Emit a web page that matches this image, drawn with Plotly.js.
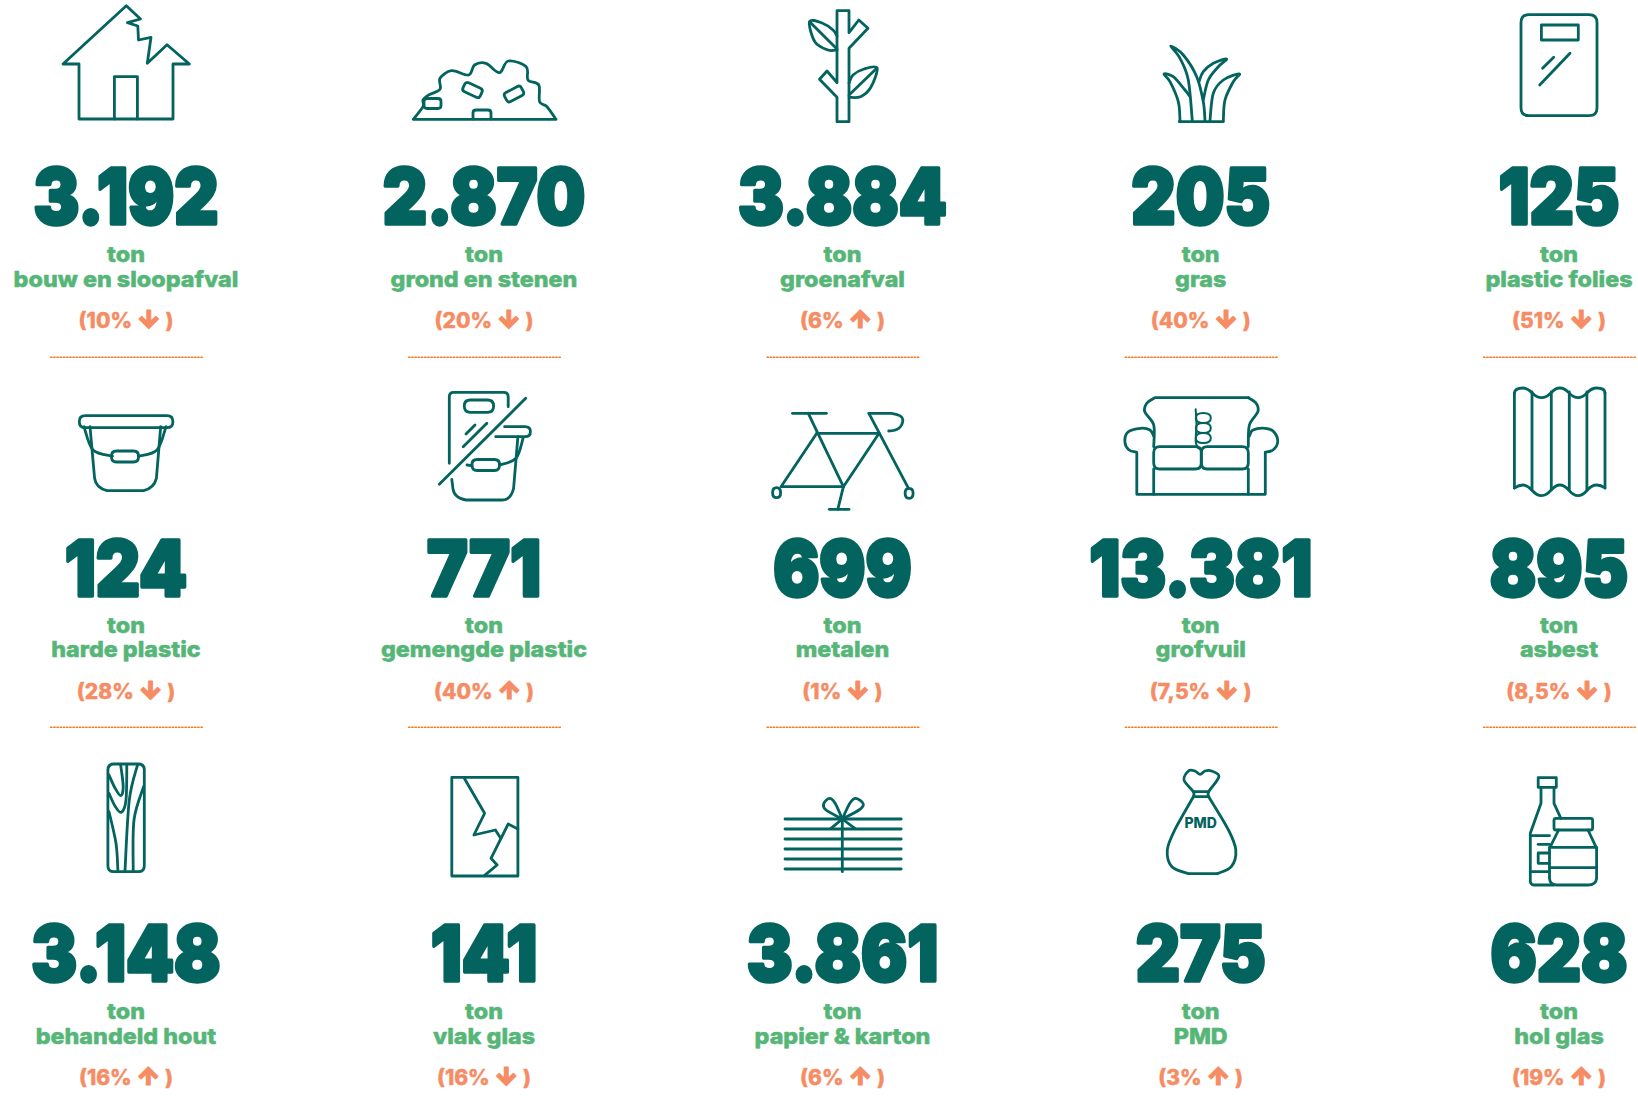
<!DOCTYPE html>
<html><head><meta charset="utf-8">
<script src="https://cdn.plot.ly/plotly-3.0.1.min.js"></script>
<style>
html,body{margin:0;padding:0;background:#fff;overflow:hidden}
.shapelayer path{stroke-linejoin:round;stroke-linecap:round}
.textpoint text[style*="font-size: 77px"]{stroke:#02635f;stroke-width:3.5px;stroke-linejoin:round;transform-box:fill-box;transform-origin:center;transform:scaleX(.89)}
.textpoint text[style*="font-size: 22px"]{stroke:#56b678;stroke-width:.5px;stroke-linejoin:round;transform-box:fill-box;transform-origin:center;transform:scaleX(1.06)}
.textpoint text[style*="font-size: 21px"]{stroke:#f68c63;stroke-width:.4px;stroke-linejoin:round}
</style></head><body><div id="chart" style="width:1638px;height:1111px"></div>
<script>
const categories=["bouw en sloopafval","grond en stenen","groenafval","gras","plastic folies",
"harde plastic","gemengde plastic","metalen","grofvuil","asbest",
"behandeld hout","vlak glas","papier & karton","PMD","hol glas"];
const tons=[3192,2870,3884,205,125,124,771,699,13381,895,3148,141,3861,275,628];
const changePct=["10","20","6","40","51","28","40","1","7,5","8,5","16","16","6","3","19"];
const changeDir=["down","down","up","down","down","down","up","down","down","down","up","down","up","up","up"];
const unitLabel="ton";
const colCentres=[126,484,842.5,1200.7,1559];
const numberY=[205,576.5,962], tonY=[257,628,1014], nameY=[282,652,1038.5], pctY=[323,694,1080], ruleY=[357.3,727.3];

const TEAL="#02635f",GREEN="#56b678",ORANGE="#f68c63",RULE="#f47c20";
const fmt=n=>String(n).replace(/\B(?=(\d{3})+$)/g,".");
const colX=i=>colCentres[i%5], row=i=>Math.floor(i/5);

function poly(p,close){return "M"+p.map(q=>q.join(",")).join("L")+(close?"Z":"");}
function smooth(p,close){
  const n=p.length,g=i=>close?p[(i+n)%n]:p[Math.max(0,Math.min(n-1,i))];
  let s="M"+p[0].join(",");
  const m=close?n:n-1;
  for(let i=0;i<m;i++){const a=g(i-1),b=g(i),c=g(i+1),d=g(i+2);
    s+="C"+[b[0]+(c[0]-a[0])/6,b[1]+(c[1]-a[1])/6,c[0]-(d[0]-b[0])/6,c[1]-(d[1]-b[1])/6,c[0],c[1]].map(v=>v.toFixed(1)).join(",");}
  return s+(close?"Z":"");
}
function rr(x0,y0,x1,y1,r,ang){
  const cx=(x0+x1)/2,cy=(y0+y1)/2,a=(ang||0)*Math.PI/180;
  const t=(x,y)=>{const dx=x-cx,dy=y-cy;return (cx+dx*Math.cos(a)-dy*Math.sin(a)).toFixed(1)+","+(cy+dx*Math.sin(a)+dy*Math.cos(a)).toFixed(1);};
  return "M"+t(x0+r,y0)+"L"+t(x1-r,y0)+"Q"+t(x1,y0)+" "+t(x1,y0+r)+"L"+t(x1,y1-r)+"Q"+t(x1,y1)+" "+t(x1-r,y1)+"L"+t(x0+r,y1)+"Q"+t(x0,y1)+" "+t(x0,y1-r)+"L"+t(x0,y0+r)+"Q"+t(x0,y0)+" "+t(x0+r,y0)+"Z";
}
function ell(cx,cy,rx,ry){return `M${cx-rx},${cy}Q${cx-rx},${cy-ry} ${cx},${cy-ry}Q${cx+rx},${cy-ry} ${cx+rx},${cy}Q${cx+rx},${cy+ry} ${cx},${cy+ry}Q${cx-rx},${cy+ry} ${cx-rx},${cy}Z`;}

const icons=[
 [poly([[126.3,5.7],[63,64],[79,64],[79,119],[173,119],[173,64],[189.4,64],[167,44.7],[147.3,63.3],[151,37.3],[138.5,40],[137.8,26],[127.4,22.7],[140.5,19]],true),
  poly([[114.4,119],[114.4,76.7],[137.4,76.7],[137.4,119]])],
 [smooth([[413.3,119.3],[423,106.7],[423,100],[428.6,95],[440,89.3],[440,78.3],[451.6,70.7],[468.8,75],[474.5,65],[486,63.3],[499.4,72.7],[508.2,61],[526.2,66.7],[528,80],[538.8,85],[539.6,101.7],[547,106.7],[556,119.3]])+"M556,119.3L413.3,119.3",
  rr(424,98.5,441,108.5,3),rr(463,85,482,95,3,25),rr(504.5,89,523.5,99,3,-28),"M473,119V113Q473,110 476,110H488Q491,110 491,113V119"],
 [poly([[837,10.7],[849,10.7],[849,32.7],[858.8,20],[868,28.3],[849,48.3],[849,121.7],[837,121.7],[837,97.3],[819.5,79.3],[827,71],[837,82.7]],true),
  smooth([[837,50],[828,50],[815,42],[809.6,21.7],[822,23],[833,30],[837,36]]),"M809.6,21.7L837,49",
  smooth([[849,97.3],[860.5,96.7],[871,87],[877,68],[864,69],[853,75],[849,83]]),"M877,68L849,95"],
 ["M1179.3,121.7H1223.3",
  smooth([[1192.3,120.7],[1188.3,80],[1180,58.3],[1170.7,46],[1183.3,55],[1196.7,76.7],[1203.3,101.7],[1205,120.7]]),
  smooth([[1199,81.7],[1203.3,71.7],[1213.3,63.3],[1226.7,59],[1218.3,66.7],[1208.3,80],[1203.3,100]]),
  smooth([[1180,120.7],[1178.3,101.7],[1170,81.7],[1164,74],[1173.3,76.7],[1185,90],[1189.5,96]]),
  smooth([[1210,120.7],[1213.3,93.3],[1223.3,80],[1239.3,74],[1233.3,81.7],[1225,100],[1223.3,120.7]])],
 [rr(1521,14.7,1597,115.7,8),"M1541.4,25H1578.3V40H1541.4Z","M1539.7,85L1570,53.3","M1542.6,68.3L1553.7,57.3"],
 [rr(79.3,415.7,172.9,427.7,6),"M90,426.7L94.6,478.3Q96,488 107,490.7L143.6,490.7Q154,488 156.4,478.3L160.7,426.7",
  smooth([[84,426.7],[93,450],[112.5,456]]),smooth([[166,426.7],[157,450],[139,456]]),rr(111.5,451,138.5,462,5)],
 ["M449.3,463.3V396.7Q449.3,392.3 453.6,392.3H503.6Q508.2,392.3 508.2,396.7V406.7",rr(464.3,400,493.6,412.3,6),"M475,425L466,434","M486.8,423.3L463.2,446.7","M525.7,398.3L439.3,484.3",
  "M504.6,426.7H525Q530.4,426.7 530.4,431.7Q530.4,436.7 525,436.7H495.7",
  "M517.9,436.7L513.6,488.3Q511,500 501.8,500H466Q454,498 452.9,488.3L451.8,479.3",
  smooth([[523.2,437.7],[516,458.3],[499.3,465]]),"M467,465L472,465.7",rr(472,459.5,499.5,470.5,5)],
 ["M792.5,413.3H826.4","M808.3,413.3L843.4,486.7L837.8,509.3","M829.3,509.3H849","M816.8,433.3H879.1","M868.9,413.3L908.5,488.3","M868.9,413.3H891.6Q903,415 902.9,420Q902,431 888.7,431","M879.1,433.3L843.4,486.7","M816.8,433.3L781,486.7H843.4",ell(776.6,492.7,4,5),ell(909.1,493.3,4,5)],
 [smooth([[1153.7,446.7],[1153.7,425],[1144.7,411.7],[1147,403],[1154.9,397.7]])+"L1248.3,397.7",smooth([[1248.3,397.7],[1256,403],[1257.9,411.7],[1249.4,425],[1248.3,446.7]]),
  smooth([[1153.7,436],[1150,430],[1140.7,428.3],[1128,432],[1124.9,442],[1129,450],[1136.8,452.3]])+"V494.3H1265.3V452.3",
  smooth([[1265.3,452.3],[1273,450],[1277.7,442],[1274,432],[1265.3,428.3],[1253,430],[1249.4,436]]),
  "M1153.7,469V494.3","M1248.3,469V494.3",rr(1153.7,446.7,1201.3,469,6),rr(1201.3,446.7,1248.3,469,6)],
 ["M1514.4,393Q1515,388 1523,388C1532,388 1532,397.7 1541.6,397.7C1551,397.7 1551,388 1559.8,388C1569,388 1569,397.7 1578,397.7C1587,397.7 1587,388 1596.6,388Q1605,388 1605,393",
  "M1514.4,488Q1519,485 1523,485C1532,485 1532,495.7 1541.6,495.7C1551,495.7 1551,485 1559.8,485C1569,485 1569,495.7 1578,495.7C1587,495.7 1587,485 1596.6,485Q1601,485 1605,488",
  "M1514.4,393V488","M1532,392V490","M1551.3,392V490","M1569.3,392V490","M1586.9,392V490","M1605,393V488"],
 [rr(107.9,764,144.3,871.7,6),smooth([[109,775],[115,788],[120.7,795.7],[123.2,786.7],[120.7,765]]),smooth([[109,793.3],[115,806],[121.4,812.3],[126,800],[126.8,765]]),
  smooth([[109,811.7],[116,843.3],[117.9,870.7]]),smooth([[137.5,765],[129.3,800],[125,870.7]]),smooth([[143.6,786.7],[134,820],[133.2,870.7]])],
 ["M451.8,777.3H517.9V876H451.8Z",poly([[464.3,778.3],[484.6,813.3],[473.9,835],[495.4,830],[500.7,838.3]]),poly([[517.9,829],[508.2,824],[491,858.3],[497.1,865],[484.6,875.3]])],
 ["M785,819H901.2","M785,829H901.2","M785,839H901.2","M785,849H901.2","M785,859H901.2","M785,869H901.2","M842.3,819V871.7",
  smooth([[842.3,819],[826,810],[823.6,804],[829.3,798.3],[835,803],[842.3,819]]),smooth([[842.3,819],[859,810],[863.3,804],[855.9,798.3],[850,803],[842.3,819]]),"M831,828.3L842.3,819L854.8,828.3"],
 [smooth([[1193.4,796.7],[1174.7,830],[1167.3,850],[1171.9,866.7],[1188.9,873.7]])+"L1217.2,873.7",smooth([[1217.2,873.7],[1231.3,866.7],[1235.8,850],[1228.5,830],[1208.7,796.7]]),
  "M1193.4,796.7H1208.7","M1193.4,791.7H1208.7",
  smooth([[1193.4,796.7],[1193.4,791.7],[1184,780],[1188.9,770.7],[1195,771],[1200.2,774.3],[1205,771],[1211.5,771],[1218.9,776.7],[1208.7,791.7],[1208.7,796.7]])],
 ["M1538.2,777.7H1556.3V787.3H1538.2Z","M1541,787.3V803.3L1530.3,833.3V881.7Q1531,885 1534.3,885H1554","M1554,787.3V803.3L1560.9,818.3",
  "M1530.3,835.7H1549.5","M1530.3,871.7H1549.5","M1538.2,844.3H1549.5","M1549.5,853H1538.2V863.3H1549.5",
  rr(1554,818.3,1592.6,830,2),"M1558.6,830L1549.5,848.3V878.3Q1550,885 1556.9,885H1588Q1596,885 1596.6,878.3V848.3L1588,830","M1549.5,847.3H1596.6","M1549.5,867.7H1596.6"]
];
const thin=[ell(1203.3,418,7.5,5),ell(1203.3,428,7.5,5),ell(1203.3,438,7.5,5),smooth([[1195.7,409.3],[1196.5,425],[1195.7,441.7],[1198.3,448.3]])];

const shapes=[];
icons.forEach(parts=>parts.forEach(d=>shapes.push({type:"path",xref:"x",yref:"y",path:d,line:{color:TEAL,width:2.8},layer:"above"})));
thin.forEach(d=>shapes.push({type:"path",xref:"x",yref:"y",path:d,line:{color:TEAL,width:2},layer:"above"}));
ruleY.forEach(y=>colCentres.forEach(c=>shapes.push({type:"line",xref:"x",yref:"y",x0:c-75.5,x1:c+76.5,y0:y,y1:y,line:{color:RULE,width:1.4,dash:"1.5px 1.7px"}})));

const idx=categories.map((_,i)=>i);
const arrow=d=>`<span style="font-family:Inter;font-size:25px;font-weight:900;stroke-width:1.2px">${d==="up"?"↑":"↓"}</span>`;
const tr=(y,text,font)=>({type:"scatter",mode:"text",x:idx.map(colX),y:idx.map(i=>y[row(i)]),text,textposition:"middle center",textfont:font,hoverinfo:"skip",showlegend:false,cliponaxis:false});
const data=[
 tr(numberY,tons.map(fmt),{family:"Inter, Roboto, sans-serif",size:77,color:TEAL,weight:900}),
 tr(tonY,idx.map(()=>unitLabel),{family:"Inter, sans-serif",size:22,color:GREEN,weight:800}),
 tr(nameY,categories,{family:"Inter, sans-serif",size:22,color:GREEN,weight:800}),
 tr(pctY,idx.map(i=>"("+changePct[i]+"% "+arrow(changeDir[i])+" )"),{family:"Inter, 'DejaVu Sans', sans-serif",size:21,color:ORANGE,weight:800}),
 {type:"scatter",mode:"text",x:[colCentres[3]],y:[824],text:[categories[13]],textposition:"middle center",textfont:{family:"Inter, sans-serif",size:14,color:TEAL,weight:800},hoverinfo:"skip",showlegend:false}
];
const axis={visible:false,fixedrange:true};
Plotly.newPlot("chart",data,{width:1638,height:1111,margin:{l:0,r:0,t:0,b:0},paper_bgcolor:"#fff",plot_bgcolor:"#fff",showlegend:false,
 xaxis:Object.assign({range:[0,1638]},axis),yaxis:Object.assign({range:[1111,0]},axis),shapes},{displayModeBar:false,staticPlot:true});
</script></body></html>
